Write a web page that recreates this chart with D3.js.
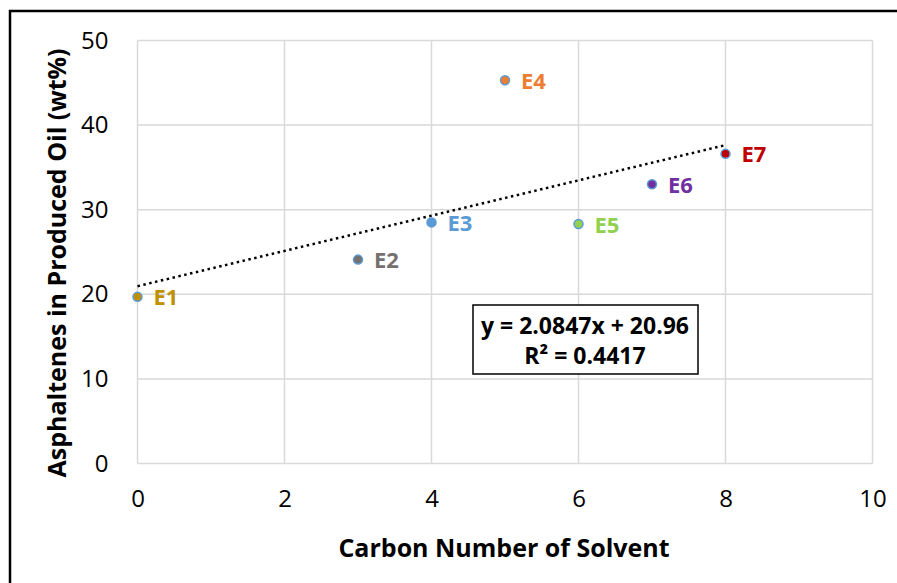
<!DOCTYPE html>
<html>
<head>
<meta charset="utf-8">
<style>
  body { margin: 0; background: #fff; }
  svg { font-family: "Open Sans", sans-serif; }
</style>
</head>
<body>
<svg width="897" height="583"></svg>
<script src="https://cdn.jsdelivr.net/npm/d3@7"></script>
<script>

// data
var labels = ["E1", "E2", "E3", "E4", "E5", "E6", "E7"];
var carbonNumber = [0, 3, 4, 5, 6, 7, 8];
var asphaltenes = [19.7, 24.1, 28.5, 45.3, 28.3, 33.0, 36.6];
var pointColors = ["#bf9000", "#767171", "#5b9bd5", "#ed7d31", "#92d050", "#7030a0", "#c00000"];
var xTicks = [0, 2, 4, 6, 8, 10];
var yTicks = [0, 10, 20, 30, 40, 50];
var slope = 2.0847, intercept = 20.96, rSquared = 0.4417;

var svg = d3.select("svg");

// outer frame (goes off the right/bottom edge)
svg.append("path")
  .attr("d", "M10,600 L10,11 L900,11")
  .attr("fill", "none").attr("stroke", "#000").attr("stroke-width", 2.5);

var x = d3.scaleLinear().domain([0, 10]).range([137.5, 872.5]);
var y = d3.scaleLinear().domain([0, 50]).range([463.5, 40.5]);

var grid = svg.append("g");
grid.selectAll(".vg").data(xTicks).enter().append("line")
  .attr("x1", function(d) { return x(d); }).attr("x2", function(d) { return x(d); })
  .attr("y1", y(0)).attr("y2", y(50))
  .attr("stroke", "#d9d9d9").attr("stroke-width", 1.5);
grid.selectAll(".hg").data(yTicks).enter().append("line")
  .attr("y1", function(d) { return y(d); }).attr("y2", function(d) { return y(d); })
  .attr("x1", x(0)).attr("x2", x(10))
  .attr("stroke", "#d9d9d9").attr("stroke-width", 1.5);

// axes via d3, just for the labels
var xAxis = svg.append("g")
  .attr("transform", "translate(0," + y(0) + ")")
  .call(d3.axisBottom(x).tickValues(xTicks).tickSize(0).tickPadding(26));
var yAxis = svg.append("g")
  .attr("transform", "translate(" + x(0) + ",0)")
  .call(d3.axisLeft(y).tickValues(yTicks).tickSize(0).tickPadding(29));
[xAxis, yAxis].forEach(function(a) {
  a.select(".domain").remove();
  a.selectAll("text").attr("font-family", "'Open Sans', sans-serif")
    .attr("font-size", 24).attr("fill", "#000");
});

// trend line
var trend = [0, 8];
svg.append("line")
  .attr("x1", x(trend[0])).attr("y1", y(slope * trend[0] + intercept))
  .attr("x2", x(trend[1])).attr("y2", y(slope * trend[1] + intercept))
  .attr("stroke", "#000").attr("stroke-width", 2.5)
  .attr("stroke-dasharray", "2.5,3.5").attr("stroke-linecap", "butt");

// points
var pts = labels.map(function(l, i) {
  return { label: l, cx: carbonNumber[i], cy: asphaltenes[i], color: pointColors[i] };
});
var g = svg.append("g").selectAll("g").data(pts).enter().append("g")
  .attr("transform", function(d) { return "translate(" + x(d.cx) + "," + y(d.cy) + ")"; });
g.append("circle").attr("r", 4.5)
  .attr("fill", function(d) { return d.color; })
  .attr("stroke", "#5b9bd5").attr("stroke-width", 1.5);
g.append("text")
  .attr("x", 16).attr("y", 8.5)
  .attr("font-size", 22).attr("font-weight", "bold")
  .attr("fill", function(d) { return d.color; })
  .text(function(d) { return d.label; });

// equation box
var box = svg.append("g").attr("transform", "translate(585,0)");
box.append("rect").attr("x", -112).attr("y", 305).attr("width", 225).attr("height", 69)
  .attr("fill", "#fff").attr("stroke", "#000").attr("stroke-width", 1.5);
box.append("text").attr("y", 334).attr("text-anchor", "middle")
  .attr("font-size", 23).attr("font-weight", "bold")
  .text("y = " + slope + "x + " + intercept);
box.append("text").attr("y", 364).attr("text-anchor", "middle")
  .attr("font-size", 23).attr("font-weight", "bold")
  .text("R² = " + rSquared);

// axis titles
svg.append("text").attr("x", 504).attr("y", 557).attr("text-anchor", "middle")
  .attr("font-size", 25).attr("font-weight", "bold")
  .text("Carbon Number of Solvent");
svg.append("text").attr("transform", "translate(66,263) rotate(-90)")
  .attr("text-anchor", "middle")
  .attr("font-size", 25).attr("font-weight", "bold")
  .text("Asphaltenes in Produced Oil (wt%)");

</script>
</body>
</html>
